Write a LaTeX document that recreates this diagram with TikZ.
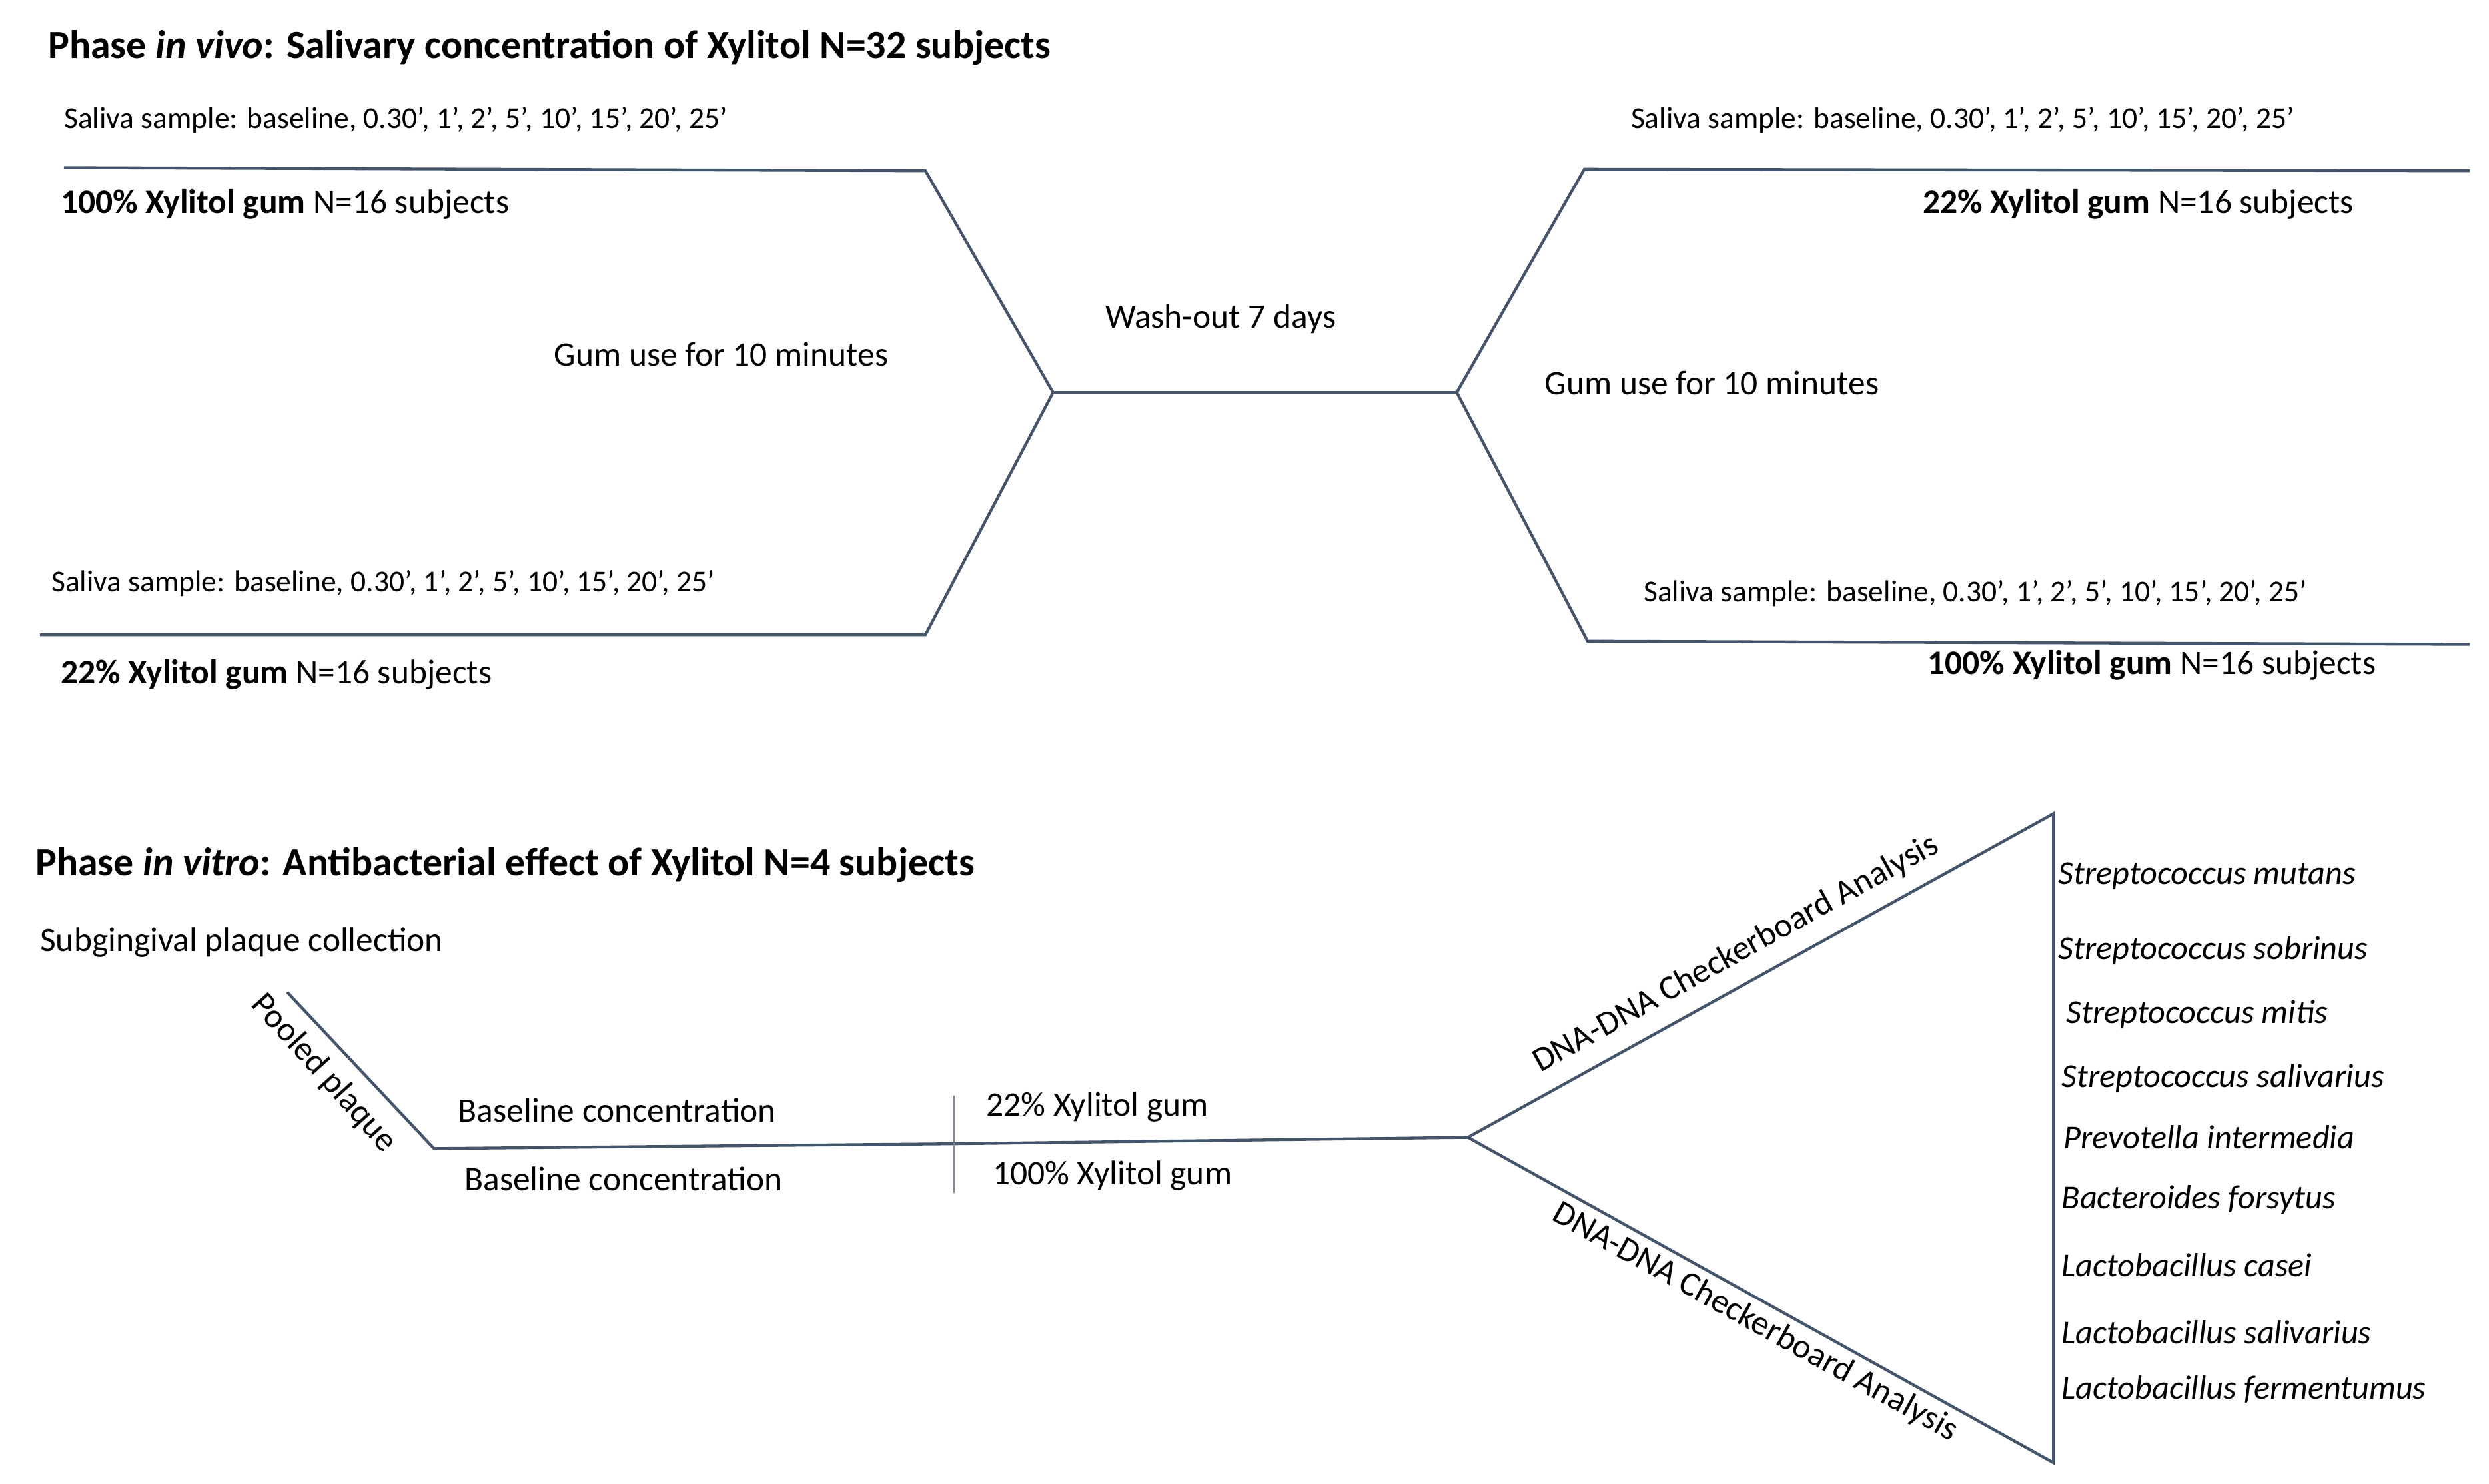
\documentclass[tikz,border=0pt]{standalone}
\usepackage{fontspec}
\setmainfont{Carlito}
\begin{document}
\begin{tikzpicture}[x=1pt,y=-1pt,
  ln/.style={draw=lc,line width=1.8pt},
  tx/.style={font=\fontsize{21.5}{24}\selectfont,anchor=west,inner sep=0pt},
  sm/.style={font=\fontsize{19}{22}\selectfont,anchor=west,inner sep=0pt},
  ttl/.style={font=\fontsize{25}{28}\selectfont\bfseries,anchor=west,inner sep=0pt},
  sp/.style={font=\fontsize{21}{24}\selectfont\itshape,anchor=west,inner sep=0pt}]
\definecolor{lc}{HTML}{44546A}
\useasboundingbox (0,0) rectangle (1560,930);
% top
\node[ttl] (t1) at (30,30) {Phase \textit{in vivo}: Salivary concentration of Xylitol N=32 subjects};
\coordinate (a1) at (40,105); \coordinate (a2) at (580,107);
\coordinate (c1) at (660,246); \coordinate (c2) at (913,246);
\coordinate (b1) at (993,106); \coordinate (b2) at (1548,107);
\coordinate (d1) at (25,398); \coordinate (d2) at (580,398);
\coordinate (e1) at (995,402); \coordinate (e2) at (1548,404);
\draw[ln] (a1)--(a2)--(c1)--(c2)--(b1)--(b2);
\draw[ln] (c1)--(d2)--(d1);
\draw[ln] (c2)--(e1)--(e2);
\node[sm] (s1) at (40,75) {Saliva sample: baseline, 0.30’, 1’, 2’, 5’, 10’, 15’, 20’, 25’};
\node[tx] (g1) at (38,128) {\textbf{100\% Xylitol gum} N=16 subjects};
\node[tx,anchor=center] (u1) at (452,222) {Gum use for 10 minutes};
\node[tx,anchor=center] (w) at (765,200) {Wash-out 7 days};
\node[sm] (s2) at (1022,75) {Saliva sample: baseline, 0.30’, 1’, 2’, 5’, 10’, 15’, 20’, 25’};
\node[tx] (g2) at (1205,128) {\textbf{22\% Xylitol gum} N=16 subjects};
\node[tx] (u2) at (968,240) {Gum use for 10 minutes};
\node[sm] (s3) at (1030,372) {Saliva sample: baseline, 0.30’, 1’, 2’, 5’, 10’, 15’, 20’, 25’};
\node[tx] (g3) at (1208,417) {\textbf{100\% Xylitol gum} N=16 subjects};
\node[sm] (s4) at (32,366) {Saliva sample: baseline, 0.30’, 1’, 2’, 5’, 10’, 15’, 20’, 25’};
\node[tx] (g4) at (38,423) {\textbf{22\% Xylitol gum} N=16 subjects};
% bottom
\node[ttl] (t2) at (22,542) {Phase \textit{in vitro}: Antibacterial effect of Xylitol N=4 subjects};
\node[tx] (pc) at (25,591) {Subgingival plaque collection};
\coordinate (p1) at (180,622); \coordinate (p2) at (272,720);
\coordinate (p3) at (598,717); \coordinate (p4) at (920,713);
\coordinate (tr1) at (1287,510); \coordinate (tr2) at (1287,917);
\draw[ln] (p1)--(p2)--(p3)--(p4);
\draw[ln] (p4)--(tr1)--(tr2)--cycle;
\draw[draw=lc!70,line width=0.8pt] (598,687)--(598,748);
\node[tx,anchor=center,rotate=-48] (pp) at (203,673) {Pooled plaque};
\node[tx] (bc1) at (287,696) {Baseline concentration};
\node[tx] (bc2) at (291,739) {Baseline concentration};
\node[tx] (x1) at (618,694) {22\% Xylitol gum};
\node[tx] (x2) at (622,737) {100\% Xylitol gum};
\node[tx,anchor=center,rotate=29] (dn1) at (1088,598) {DNA-DNA Checkerboard Analysis};
\node[tx,anchor=center,rotate=-29] (dn2) at (1100,829) {DNA-DNA Checkerboard Analysis};
\node[sp] at (1290,549) {Streptococcus mutans};
\node[sp] at (1290,596) {Streptococcus sobrinus};
\node[sp] at (1295,636) {Streptococcus mitis};
\node[sp] at (1292,676) {Streptococcus salivarius};
\node[sp] at (1293,713) {Prevotella intermedia};
\node[sp] at (1292,752) {Bacteroides forsytus};
\node[sp] at (1292,793) {Lactobacillus casei};
\node[sp] at (1292,835) {Lactobacillus salivarius};
\node[sp] at (1292,871) {Lactobacillus fermentumus};
\end{tikzpicture}
\end{document}
